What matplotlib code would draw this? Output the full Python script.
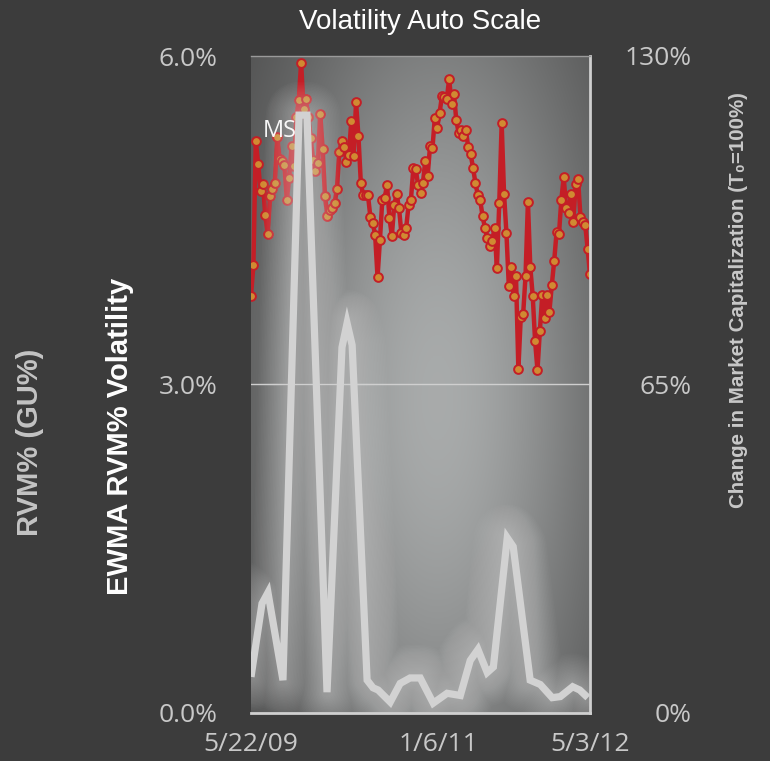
import matplotlib
matplotlib.use("Agg")
import matplotlib.pyplot as plt
import numpy as np
import pandas as pd

# ----------------------
# data
# ----------------------
start = pd.Timestamp("2009-05-22")
end = pd.Timestamp("2012-05-03")

# change in market capitalization (T0=100%), weekly
mcap = [82.5, 88.6, 113.2, 108.6, 103.3, 104.6, 98.5, 94.7, 102.2, 103.6,
        104.8, 114.0, 109.6, 109.3, 108.4, 101.5, 105.9, 112.2, 108.2, 117.9,
        121.2, 128.7, 119.6, 121.5, 117.9, 113.8, 109.4, 107.2, 108.8, 118.5,
        111.6, 102.2, 98.4, 99.5, 99.9, 100.9, 103.6, 111.1, 113.2, 111.9,
        109.0, 110.4, 117.1, 110.3, 120.8, 114.2, 104.9, 102.4, 102.4, 102.4,
        98.2, 97.0, 94.6, 86.2, 93.5, 101.5, 102.0, 104.5, 97.9, 94.4,
        100.5, 102.7, 99.9, 94.9, 94.6, 96.0, 100.5, 101.6, 107.8, 107.6,
        104.5, 102.8, 104.8, 109.3, 106.3, 112.2, 111.7, 117.8, 115.8, 118.8,
        122.1, 121.8, 121.4, 125.5, 120.6, 122.5, 117.3, 114.7, 115.4, 114.2,
        115.4, 111.9, 110.6, 107.9, 104.9, 102.5, 101.5, 98.3, 96.0, 94.0,
        92.4, 93.3, 96.0, 88.0, 101.0, 116.7, 102.7, 94.9, 84.4, 88.2,
        82.5, 86.5, 68.0, 78.4, 78.9, 86.5, 101.2, 88.2, 82.6, 73.6,
        67.8, 75.6, 82.7, 78.1, 82.7, 79.4, 84.7, 89.4, 95.2, 94.7,
        101.6, 106.0, 99.9, 98.9, 102.6, 97.2, 104.7, 105.6, 98.2, 97.2,
        96.6, 91.9, 86.8]

# EWMA RVM% volatility (week offset from start, value in %)
vol_week = [0, 5, 7.7, 14.5, 21.8, 25.4, 34.5, 41.3, 43.6, 45.9,
            52.7, 55.4, 57.7, 63.2, 67.7, 72.2, 76.8, 82.7, 89, 95,
            99.5, 103, 107.2, 110, 116.3, 119, 126.7, 131.3, 136.7, 140.4,
            146, 149.2, 152.9]
vol_pct = [0.33, 1.00, 1.10, 0.30, 5.46, 5.46, 0.19, 3.34, 3.56, 3.36,
           0.30, 0.23, 0.21, 0.10, 0.27, 0.32, 0.32, 0.09, 0.18, 0.16,
           0.48, 0.58, 0.37, 0.42, 1.60, 1.52, 0.30, 0.26, 0.14, 0.15,
           0.24, 0.21, 0.14]

xtick_dates = ["2009-05-22", "2011-01-06", "2012-05-03"]
xtick_labels = ["5/22/09", "1/6/11", "5/3/12"]
left_ticks = [0, 3, 6]
left_labels = ["0.0%", "3.0%", "6.0%"]
right_ticks = [0, 65, 130]
right_labels = ["0%", "65%", "130%"]

mcap_dates = pd.date_range(start, end, periods=len(mcap))
vol_dates = start + pd.to_timedelta(np.array(vol_week) * 7, unit="D")

# ----------------------
# figure
# ----------------------
BG = "#3c3c3c"
TICK = "#c8c8c8"
fig = plt.figure(figsize=(7.7, 7.61), dpi=100, facecolor=BG)
ax2 = fig.add_axes([251 / 770, 48 / 761, 339 / 770, 657 / 761])
ax = ax2.twinx()
ax.set_zorder(ax2.get_zorder() + 1)
ax.patch.set_visible(False)
ax2.patch.set_visible(False)

# radial gray background of the plot area
gx, gy = np.meshgrid(np.linspace(0, 1, 300), np.linspace(0, 1, 300))
r2 = ((gx - 0.55) / 0.55) ** 2 + ((gy - 0.48) / 0.75) ** 2
light = np.array([0.66, 0.67, 0.67])
dark = np.array([0.26, 0.26, 0.26])
w = np.exp(-r2 * 1.1)[..., None]
grad = dark + (light - dark) * w
ax2.imshow(grad, extent=(0, 1, 0, 1), transform=ax2.transAxes,
           aspect="auto", origin="lower", zorder=0)

# market cap (right axis, drawn underneath)
ax2.axhline(65, color="#cfcfcf", lw=1, zorder=1)
ax2.plot(mcap_dates, mcap, color="#c41e26", lw=3.2, marker="o", ms=6.3,
         mfc="#d08a32", mec="#c41e26", mew=1.4, zorder=2)
ax2.set_ylim(0, 130)
ax2.set_xlim(start, end)

# volatility (left axis, on top) with soft glow
for lw_ in np.linspace(48, 8, 20):
    ax.plot(vol_dates, vol_pct, color="white", lw=lw_, alpha=0.018,
            solid_joinstyle="round", solid_capstyle="round")
ax.plot(vol_dates, vol_pct, color="#d2d2d2", lw=5.2,
        solid_joinstyle="miter", solid_capstyle="butt")
ax.set_ylim(0, 6)

# tick labels
ax.yaxis.tick_left()
ax2.yaxis.tick_right()
ax.set_yticks(left_ticks)
ax.set_yticklabels(left_labels, family="Open Sans", fontsize=19, color=TICK)
ax.tick_params(axis="y", length=0, pad=24)
ax2.set_yticks(right_ticks)
ax2.set_yticklabels(right_labels, family="Open Sans", fontsize=19,
                    color=TICK, ha="right")
ax2.tick_params(axis="y", length=0, pad=73)

ax2.set_xticks(pd.to_datetime(xtick_dates))
ax2.set_xticklabels(xtick_labels, family="Open Sans", fontsize=19, color=TICK)
ax2.tick_params(axis="x", length=0, pad=14)
ax2.set_xlim(start, end)

for s in ax2.spines.values():
    s.set_visible(False)
ax.spines["left"].set_visible(False)
ax.spines["top"].set_color("#9a9a9a")
ax.spines["top"].set_linewidth(1)
ax.spines["right"].set_color("#cfcfcf")
ax.spines["right"].set_linewidth(2)
ax.spines["bottom"].set_color("#d0d0d0")
ax.spines["bottom"].set_linewidth(2)

# texts
ax.text(0.035, 0.886, "MS", transform=ax.transAxes, color="white",
        family="Open Sans", fontsize=17, va="center", ha="left", alpha=0.95)
fig.text(420 / 770, 1 - 22 / 761, "Volatility Auto Scale", color="white",
         family="Liberation Sans", fontsize=20, ha="center", va="center")
fig.text(120 / 770, 1 - 436 / 761, "EWMA RVM% Volatility", color="white",
         family="Liberation Sans", fontweight="bold", fontsize=21,
         rotation=90, ha="center", va="center")
fig.text(30 / 770, 1 - 442 / 761, "RVM% (GU%)", color="#c4c4c4",
         family="Liberation Sans", fontweight="bold", fontsize=21,
         rotation=90, ha="center", va="center")
fig.text(738 / 770, 1 - 300 / 761, "Change in Market Capitalization (T\u2080=100%)",
         color="#c8c8c8", family=["Liberation Sans", "DejaVu Sans"],
         fontweight="bold", fontsize=14.8, rotation=90, ha="center", va="center")

fig.savefig("out.png", dpi=100, facecolor=BG)
